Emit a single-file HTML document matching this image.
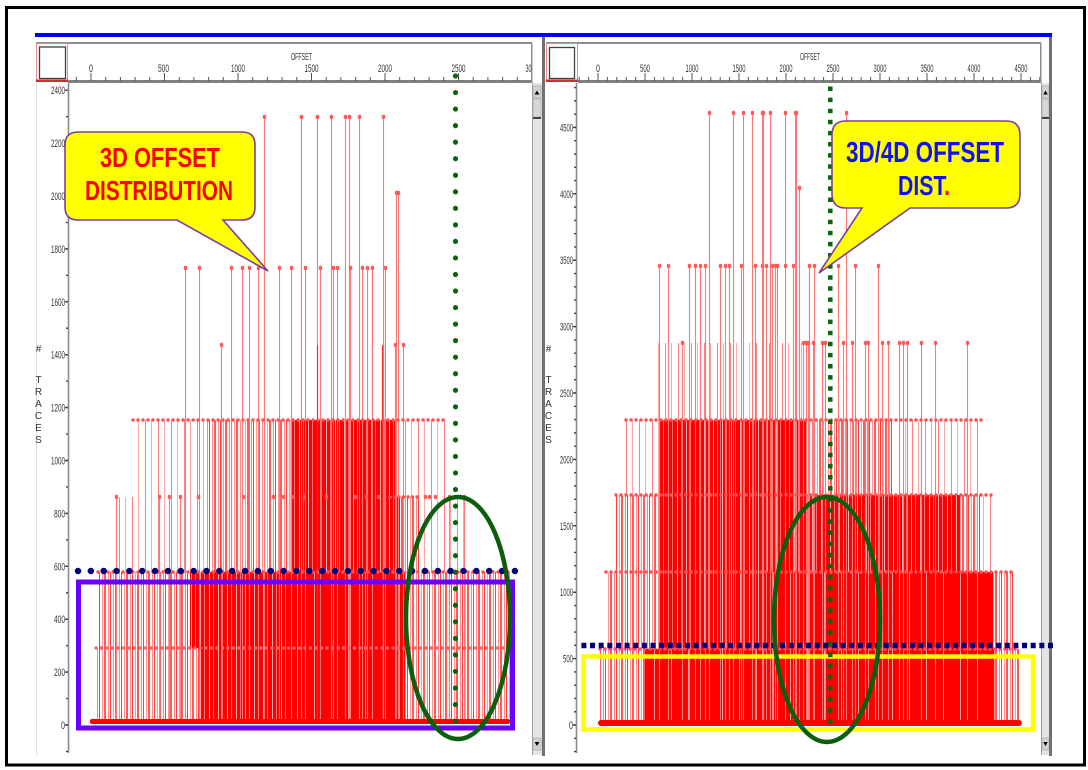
<!DOCTYPE html>
<html><head><meta charset="utf-8"><style>
html,body{margin:0;padding:0;background:#fff;}
body{width:1088px;height:770px;overflow:hidden;}
svg{display:block;}
text{font-family:"Liberation Sans",Arial,sans-serif;}
</style></head><body>
<svg width="1088" height="770" viewBox="0 0 1088 770" xmlns="http://www.w3.org/2000/svg">
<defs>
<pattern id="ps" width="13" height="10" patternUnits="userSpaceOnUse"><rect x="2" width="1" height="10" fill="#ff8080"/><rect x="8" width="1" height="10" fill="#ffa8a8"/></pattern>
<pattern id="pm" width="11" height="10" patternUnits="userSpaceOnUse"><rect x="0" width="1" height="10" fill="#ff3c3c"/><rect x="3" width="1" height="10" fill="#ff9a9a"/><rect x="5" width="2" height="10" fill="#ff5a5a"/><rect x="9" width="1" height="10" fill="#ff8888"/></pattern>
<pattern id="pd" width="9" height="10" patternUnits="userSpaceOnUse"><rect width="9" height="10" fill="#ff0000"/><rect x="2" width="1" height="10" fill="#ffb0b0"/><rect x="6" width="1" height="10" fill="#ff7070"/></pattern>
<pattern id="pv" width="17" height="10" patternUnits="userSpaceOnUse"><rect width="17" height="10" fill="#ff0000"/><rect x="8" width="1" height="10" fill="#ff9c9c"/></pattern>
</defs>
<rect width="1088" height="770" fill="#fff"/>

<!-- outer border -->
<rect x="6.5" y="7.5" width="1078" height="757.5" fill="none" stroke="#000" stroke-width="3"/>
<!-- blue bar -->
<rect x="35" y="33" width="1017" height="4" fill="#0000ff"/>

<!-- ===== LEFT PANEL CHROME ===== -->
<rect x="36" y="42" width="496" height="2" fill="#8c8c8c"/>
<rect x="68" y="80" width="464" height="3" fill="#808080"/>
<rect x="531" y="43" width="1.5" height="40" fill="#8c8c8c"/>
<rect x="36.5" y="43.5" width="31" height="38" fill="#fff" stroke="#e88a8a" stroke-width="1"/>
<rect x="39.5" y="47" width="26" height="31.5" fill="#fff" stroke="#404040" stroke-width="1.3"/>
<rect x="36" y="79.5" width="32" height="2.5" fill="#cc3030"/>
<line x1="36.5" y1="83" x2="36.5" y2="755" stroke="#dddddd" stroke-width="1"/>
<!-- ruler ticks -->
<line x1="75.8" y1="79" x2="531" y2="79" stroke="#555" stroke-width="4" stroke-dasharray="1 13.7"/>
<line x1="90.5" y1="77" x2="531" y2="77" stroke="#555" stroke-width="8" stroke-dasharray="1 72.5"/>
<g font-size="11" fill="#333">
<text x="91" y="72" text-anchor="middle" textLength="4" lengthAdjust="spacingAndGlyphs">0</text>
<text x="163.5" y="72" text-anchor="middle" textLength="11" lengthAdjust="spacingAndGlyphs">500</text>
<text x="238" y="72" text-anchor="middle" textLength="14" lengthAdjust="spacingAndGlyphs">1000</text>
<text x="311.5" y="72" text-anchor="middle" textLength="14" lengthAdjust="spacingAndGlyphs">1500</text>
<text x="385" y="72" text-anchor="middle" textLength="14" lengthAdjust="spacingAndGlyphs">2000</text>
<text x="458.5" y="72" text-anchor="middle" textLength="14" lengthAdjust="spacingAndGlyphs">2500</text>
<text x="525.5" y="72" textLength="6" lengthAdjust="spacingAndGlyphs">30</text>
<text x="291" y="60" textLength="21" lengthAdjust="spacingAndGlyphs" font-size="10">OFFSET</text>
</g>
<!-- y axis -->
<line x1="68.5" y1="83" x2="68.5" y2="753" stroke="#8a8a8a" stroke-width="1.6"/>
<line x1="66.5" y1="89.5" x2="66.5" y2="753" stroke="#444" stroke-width="3" stroke-dasharray="1.4 51.5"/>
<line x1="67" y1="89.5" x2="67" y2="753" stroke="#444" stroke-width="2" stroke-dasharray="1.4 25.05"/>
<g font-size="11" fill="#333" text-anchor="end">
<text x="65" y="94.2" textLength="14" lengthAdjust="spacingAndGlyphs">2400</text>
<text x="65" y="147.1" textLength="14" lengthAdjust="spacingAndGlyphs">2200</text>
<text x="65" y="200" textLength="14" lengthAdjust="spacingAndGlyphs">2000</text>
<text x="65" y="252.9" textLength="14" lengthAdjust="spacingAndGlyphs">1800</text>
<text x="65" y="305.8" textLength="14" lengthAdjust="spacingAndGlyphs">1600</text>
<text x="65" y="358.7" textLength="14" lengthAdjust="spacingAndGlyphs">1400</text>
<text x="65" y="411.6" textLength="14" lengthAdjust="spacingAndGlyphs">1200</text>
<text x="65" y="464.5" textLength="14" lengthAdjust="spacingAndGlyphs">1000</text>
<text x="65" y="517.4" textLength="11" lengthAdjust="spacingAndGlyphs">800</text>
<text x="65" y="570.3" textLength="11" lengthAdjust="spacingAndGlyphs">600</text>
<text x="65" y="623.2" textLength="11" lengthAdjust="spacingAndGlyphs">400</text>
<text x="65" y="676.1" textLength="11" lengthAdjust="spacingAndGlyphs">200</text>
<text x="65" y="729" textLength="4" lengthAdjust="spacingAndGlyphs">0</text>
</g>
<g font-size="10" fill="#333" text-anchor="middle">
<text x="38.5" y="352">#</text>
<text x="38.5" y="383">T</text>
<text x="38.5" y="395">R</text>
<text x="38.5" y="407">A</text>
<text x="38.5" y="419">C</text>
<text x="38.5" y="431">E</text>
<text x="38.5" y="443">S</text>
</g>
<!-- left scrollbar -->
<rect x="532" y="83" width="10" height="672" fill="#e4e4e4"/>
<rect x="532" y="83" width="1" height="672" fill="#a0a0a0"/>
<rect x="533" y="86" width="8" height="12" fill="#d2d2d2" stroke="#909090" stroke-width="0.5"/>
<path d="M534.6 94.5 L537 90.5 L539.4 94.5Z" fill="#000"/>
<rect x="533" y="99" width="8" height="18" fill="#d6d6d6" stroke="#999" stroke-width="0.5"/>
<rect x="533" y="117" width="8" height="2" fill="#444"/>
<rect x="533" y="738" width="8" height="12" fill="#d2d2d2" stroke="#909090" stroke-width="0.5"/>
<path d="M534.6 742 L537 746 L539.4 742Z" fill="#000"/>
<rect x="542" y="37" width="3" height="719" fill="#707070"/>

<!-- ===== RIGHT PANEL CHROME ===== -->
<rect x="546" y="42" width="495" height="2" fill="#8c8c8c"/>
<rect x="578" y="80" width="463" height="3" fill="#808080"/>
<rect x="1040" y="43" width="1.5" height="40" fill="#8c8c8c"/>
<rect x="546.5" y="43.5" width="31" height="38" fill="#fff" stroke="#e88a8a" stroke-width="1"/>
<rect x="549.5" y="47.5" width="25" height="31" fill="#fff" stroke="#404040" stroke-width="1.3"/>
<rect x="546" y="79.5" width="32" height="2.5" fill="#cc3030"/>
<line x1="578.7" y1="79" x2="1040" y2="79" stroke="#555" stroke-width="4" stroke-dasharray="1 8.4"/>
<line x1="597.5" y1="77" x2="1040" y2="77" stroke="#555" stroke-width="8" stroke-dasharray="1 46"/>
<g font-size="11" fill="#333" text-anchor="middle">
<text x="598" y="72" textLength="4" lengthAdjust="spacingAndGlyphs">0</text>
<text x="645" y="72" textLength="10" lengthAdjust="spacingAndGlyphs">500</text>
<text x="692" y="72" textLength="13" lengthAdjust="spacingAndGlyphs">1000</text>
<text x="739" y="72" textLength="13" lengthAdjust="spacingAndGlyphs">1500</text>
<text x="786" y="72" textLength="13" lengthAdjust="spacingAndGlyphs">2000</text>
<text x="833" y="72" textLength="13" lengthAdjust="spacingAndGlyphs">2500</text>
<text x="880" y="72" textLength="13" lengthAdjust="spacingAndGlyphs">3000</text>
<text x="927" y="72" textLength="13" lengthAdjust="spacingAndGlyphs">3500</text>
<text x="974" y="72" textLength="13" lengthAdjust="spacingAndGlyphs">4000</text>
<text x="1021" y="72" textLength="13" lengthAdjust="spacingAndGlyphs">4500</text>
<text x="810" y="60" textLength="20" lengthAdjust="spacingAndGlyphs" font-size="10">OFFSET</text>
</g>
<line x1="576.5" y1="83" x2="576.5" y2="753" stroke="#8a8a8a" stroke-width="1.6"/>
<line x1="574.5" y1="126.7" x2="574.5" y2="753" stroke="#444" stroke-width="3" stroke-dasharray="1.4 65"/>
<line x1="575" y1="86.9" x2="575" y2="753" stroke="#444" stroke-width="2" stroke-dasharray="1.4 11.88"/>
<g font-size="11" fill="#333" text-anchor="end">
<text x="573" y="131.4" textLength="13" lengthAdjust="spacingAndGlyphs">4500</text>
<text x="573" y="197.8" textLength="13" lengthAdjust="spacingAndGlyphs">4000</text>
<text x="573" y="264.2" textLength="13" lengthAdjust="spacingAndGlyphs">3500</text>
<text x="573" y="330.6" textLength="13" lengthAdjust="spacingAndGlyphs">3000</text>
<text x="573" y="397" textLength="13" lengthAdjust="spacingAndGlyphs">2500</text>
<text x="573" y="463.4" textLength="13" lengthAdjust="spacingAndGlyphs">2000</text>
<text x="573" y="529.8" textLength="13" lengthAdjust="spacingAndGlyphs">1500</text>
<text x="573" y="596.2" textLength="13" lengthAdjust="spacingAndGlyphs">1000</text>
<text x="573" y="662.6" textLength="10" lengthAdjust="spacingAndGlyphs">500</text>
<text x="573" y="729" textLength="4" lengthAdjust="spacingAndGlyphs">0</text>
</g>
<g font-size="10" fill="#333" text-anchor="middle">
<text x="548.5" y="352">#</text>
<text x="548.5" y="383">T</text>
<text x="548.5" y="395">R</text>
<text x="548.5" y="407">A</text>
<text x="548.5" y="419">C</text>
<text x="548.5" y="431">E</text>
<text x="548.5" y="443">S</text>
</g>
<rect x="1041" y="83" width="8" height="672" fill="#e4e4e4"/>
<rect x="1041" y="83" width="1" height="672" fill="#a0a0a0"/>
<rect x="1042" y="86" width="7" height="12" fill="#d2d2d2" stroke="#909090" stroke-width="0.5"/>
<path d="M1043.3 94.5 L1045.5 90.5 L1047.7 94.5Z" fill="#000"/>
<rect x="1042" y="99" width="7" height="18" fill="#d6d6d6" stroke="#999" stroke-width="0.5"/>
<rect x="1042" y="117" width="7" height="2" fill="#444"/>
<rect x="1042" y="738" width="7" height="12" fill="#d2d2d2" stroke="#909090" stroke-width="0.5"/>
<path d="M1043.3 742 L1045.5 746 L1047.7 742Z" fill="#000"/>
<rect x="1049" y="37" width="3" height="719" fill="#707070"/>

<!-- ===== LEFT DATA ===== -->
<g>
<rect x="133" y="420" width="72" height="77" fill="url(#ps)"/>
<rect x="205" y="420" width="85" height="77" fill="url(#pm)"/>
<rect x="290" y="420" width="105" height="77" fill="url(#pd)"/>
<rect x="395" y="420" width="50" height="77" fill="url(#ps)"/>
<rect x="116" y="497" width="89" height="75" fill="url(#ps)"/>
<rect x="205" y="497" width="85" height="75" fill="url(#pm)"/>
<rect x="290" y="497" width="110" height="75" fill="url(#pd)"/>
<rect x="400" y="497" width="20" height="75" fill="url(#pm)"/>
<rect x="420" y="497" width="45" height="75" fill="url(#ps)"/>
<rect x="98" y="572" width="92" height="76" fill="url(#pm)"/>
<rect x="190" y="572" width="100" height="76" fill="url(#pd)"/>
<rect x="290" y="572" width="115" height="76" fill="url(#pv)"/>
<rect x="405" y="572" width="105" height="76" fill="url(#pm)"/>
<rect x="96" y="648" width="104" height="73" fill="url(#pm)"/>
<rect x="200" y="648" width="90" height="73" fill="url(#pd)"/>
<rect x="290" y="648" width="115" height="73" fill="url(#pv)"/>
<rect x="405" y="648" width="105" height="73" fill="url(#pm)"/>
</g>
<path fill="none" stroke="#ff7878" stroke-width="1.1" d="M264.5 117V721M301.5 117V721M317.5 117V721M331.5 117V721M345.5 117V721M349.5 117V721M359.5 117V721M383.5 117V721M396.5 193V721M398.5 193V721M185.5 268V721M199.5 268V721M231.5 268V721M242.5 268V721M249.5 268V721M258.5 268V721M279.5 268V721M291.5 268V721M305.5 268V721M320.5 268V721M333.5 268V721M337.5 268V721M350.5 268V721M362.5 268V721M367.5 268V721M372.5 268V721M385.5 268V721M221.5 345V721M395.5 345V721M403.5 345V721M116.5 497V721M159.5 497V721M169.5 497V721M180.5 497V721M449.5 497V721M464.5 497V721"/>
<path fill="none" stroke="#ff2020" stroke-width="1.1" d="M317.5 345V721M382.5 345V721"/>
<path fill="none" stroke="#ff5a5a" stroke-width="3.4" stroke-linecap="round" d="M264.5 116.5v1M301.5 116.5v1M317.5 116.5v1M331.5 116.5v1M345.5 116.5v1M349.5 116.5v1M359.5 116.5v1M383.5 116.5v1M396.5 192.5v1M398.5 192.5v1M185.5 267.5v1M199.5 267.5v1M231.5 267.5v1M242.5 267.5v1M249.5 267.5v1M258.5 267.5v1M279.5 267.5v1M291.5 267.5v1M305.5 267.5v1M320.5 267.5v1M333.5 267.5v1M337.5 267.5v1M350.5 267.5v1M362.5 267.5v1M367.5 267.5v1M372.5 267.5v1M385.5 267.5v1M221.5 344.5v1M395.5 344.5v1M403.5 344.5v1M116.5 496.5v1M159.5 496.5v1M169.5 496.5v1M180.5 496.5v1M198.5 496.5v1M243.5 496.5v1M273.5 496.5v1M283.5 496.5v1M293.5 496.5v1M304.5 496.5v1M326.5 496.5v1M355.5 496.5v1M366.5 496.5v1M378.5 496.5v1M425.5 496.5v1M429.5 496.5v1M435.5 496.5v1M449.5 496.5v1M464.5 496.5v1"/>
<line x1="390" y1="497" x2="418" y2="497" stroke="#ff5050" stroke-width="3.4" stroke-linecap="round" stroke-dasharray="0 4.5"/>
<line x1="133" y1="420" x2="445" y2="420" stroke="#ff5050" stroke-width="3.4" stroke-linecap="round" stroke-dasharray="0 5"/>
<line x1="98" y1="572" x2="510" y2="572" stroke="#ff5050" stroke-width="3.4" stroke-linecap="round" stroke-dasharray="0 5"/>
<line x1="96" y1="648" x2="510" y2="648" stroke="#ff6060" stroke-width="3.4" stroke-linecap="round" stroke-dasharray="0 5.5"/>
<rect x="90" y="719" width="420" height="5" rx="2" fill="#ff0000"/>

<!-- ===== RIGHT DATA ===== -->
<g>
<rect x="655" y="343" width="150" height="77" fill="url(#ps)"/>
<rect x="626" y="420" width="34" height="75" fill="url(#ps)"/>
<rect x="660" y="420" width="147" height="75" fill="url(#pd)"/>
<rect x="807" y="420" width="86" height="75" fill="url(#pm)"/>
<rect x="893" y="420" width="89" height="75" fill="url(#ps)"/>
<rect x="616" y="495" width="44" height="77" fill="url(#pm)"/>
<rect x="660" y="495" width="147" height="77" fill="url(#pd)"/>
<rect x="807" y="495" width="153" height="77" fill="url(#pd)"/>
<rect x="960" y="495" width="20" height="77" fill="url(#pm)"/>
<rect x="980" y="495" width="12" height="77" fill="url(#ps)"/>
<rect x="606" y="572" width="54" height="77" fill="url(#pm)"/>
<rect x="660" y="572" width="105" height="77" fill="url(#pd)"/>
<rect x="765" y="572" width="228" height="77" fill="url(#pv)"/>
<rect x="993" y="572" width="22" height="77" fill="url(#pm)"/>
<rect x="600" y="649" width="45" height="73" fill="url(#pm)"/>
<rect x="645" y="649" width="350" height="73" fill="url(#pv)"/>
<rect x="995" y="649" width="25" height="73" fill="url(#pm)"/>
</g>
<path fill="none" stroke="#ff7878" stroke-width="1.1" d="M709.5 113V722M733.5 113V722M743.5 113V722M752.5 113V722M762.5 113V722M763.5 113V722M770.5 113V722M785.5 113V722M795.5 113V722M796.5 113V722M846.5 113V722M799.5 188V722M659.5 266V722M668.5 266V722M689.5 266V722M695.5 266V722M700.5 266V722M705.5 266V722M720.5 266V722M725.5 266V722M729.5 266V722M741.5 266V722M755.5 266V722M766.5 266V722M772.5 266V722M775.5 266V722M777.5 266V722M793.5 266V722M809.5 266V722M814.5 266V722M838.5 266V722M855.5 266V722M878.5 266V722M682.5 343V722M803.5 343V722M806.5 343V722M808.5 343V722M813.5 343V722M822.5 343V722M825.5 343V722M843.5 343V722M852.5 343V722M865.5 343V722M868.5 343V722M882.5 343V722M888.5 343V722M899.5 343V722M903.5 343V722M907.5 343V722M921.5 343V722M935.5 343V722M967.5 343V722"/>
<path fill="none" stroke="#ff5a5a" stroke-width="3.4" stroke-linecap="round" d="M709.5 112.5v1M733.5 112.5v1M743.5 112.5v1M752.5 112.5v1M762.5 112.5v1M763.5 112.5v1M770.5 112.5v1M785.5 112.5v1M795.5 112.5v1M796.5 112.5v1M846.5 112.5v1M799.5 187.5v1M659.5 265.5v1M668.5 265.5v1M689.5 265.5v1M695.5 265.5v1M700.5 265.5v1M705.5 265.5v1M720.5 265.5v1M725.5 265.5v1M729.5 265.5v1M741.5 265.5v1M755.5 265.5v1M762.5 265.5v1M766.5 265.5v1M772.5 265.5v1M775.5 265.5v1M777.5 265.5v1M785.5 265.5v1M793.5 265.5v1M809.5 265.5v1M814.5 265.5v1M838.5 265.5v1M855.5 265.5v1M878.5 265.5v1M682.5 342.5v1M803.5 342.5v1M806.5 342.5v1M808.5 342.5v1M813.5 342.5v1M822.5 342.5v1M825.5 342.5v1M843.5 342.5v1M852.5 342.5v1M865.5 342.5v1M868.5 342.5v1M882.5 342.5v1M888.5 342.5v1M899.5 342.5v1M903.5 342.5v1M907.5 342.5v1M921.5 342.5v1M935.5 342.5v1M967.5 342.5v1"/>
<line x1="626" y1="420" x2="982" y2="420" stroke="#ff5050" stroke-width="3.4" stroke-linecap="round" stroke-dasharray="0 5"/>
<line x1="616" y1="495" x2="992" y2="495" stroke="#ff5050" stroke-width="3.4" stroke-linecap="round" stroke-dasharray="0 5"/>
<line x1="606" y1="572" x2="1015" y2="572" stroke="#ff5050" stroke-width="3.4" stroke-linecap="round" stroke-dasharray="0 5"/>
<line x1="600" y1="649" x2="1020" y2="649" stroke="#ff5050" stroke-width="3.4" stroke-linecap="round" stroke-dasharray="0 5"/>
<rect x="598" y="720" width="424" height="6" rx="3" fill="#ff0000"/>

<!-- ===== LEFT OVERLAYS ===== -->
<rect x="78.5" y="582" width="434" height="146" fill="none" stroke="#6a00ff" stroke-width="5"/>
<line x1="78" y1="571" x2="518" y2="571" stroke="#00007a" stroke-width="6.5" stroke-linecap="round" stroke-dasharray="0 12.85"/>
<line x1="455.5" y1="76" x2="455.5" y2="722" stroke="#0b640b" stroke-width="5.2" stroke-linecap="round" stroke-dasharray="0 16.54"/>
<ellipse cx="458" cy="618" rx="52" ry="121" fill="none" stroke="#0b5e0b" stroke-width="4.5"/>

<!-- ===== RIGHT OVERLAYS ===== -->
<rect x="583.5" y="656.5" width="449.5" height="73" fill="none" stroke="#ffff00" stroke-width="4.5"/>
<line x1="581.4" y1="645.5" x2="1053" y2="645.5" stroke="#00007a" stroke-width="5.5" stroke-dasharray="5 3.64"/>
<line x1="830.3" y1="86.5" x2="830.3" y2="724" stroke="#0b640b" stroke-width="4.5" stroke-dasharray="4.5 6.6"/>
<ellipse cx="827" cy="619.5" rx="53" ry="122.5" fill="none" stroke="#0b5e0b" stroke-width="4.5"/>

<!-- ===== CALLOUTS ===== -->
<path d="M78 132 H242 Q255 132 255 145 V207 Q255 220 242 220 H223 L268 271 L177 220 H78 Q65 220 65 207 V145 Q65 132 78 132 Z" fill="#ffff00" stroke="#7b3fa0" stroke-width="1.6"/>
<text x="100" y="167" font-size="28" font-weight="bold" fill="#ff0000" textLength="120" lengthAdjust="spacingAndGlyphs">3D OFFSET</text>
<text x="85" y="200" font-size="28" font-weight="bold" fill="#ff0000" textLength="148" lengthAdjust="spacingAndGlyphs">DISTRIBUTION</text>

<path d="M846 121 H1006 Q1020 121 1020 135 V194 Q1020 208 1006 208 H910 L819 273 L862 208 H846 Q832 208 832 194 V135 Q832 121 846 121 Z" fill="#ffff00" stroke="#7b3fa0" stroke-width="1.6"/>
<text x="846" y="162" font-size="29" font-weight="bold" fill="#1010ff" textLength="158" lengthAdjust="spacingAndGlyphs">3D/4D OFFSET</text>
<text x="898" y="195" font-size="28" font-weight="bold" fill="#1010ff" textLength="52" lengthAdjust="spacingAndGlyphs">DIST<tspan fill="#ff0000">.</tspan></text>
</svg>
</body></html>
